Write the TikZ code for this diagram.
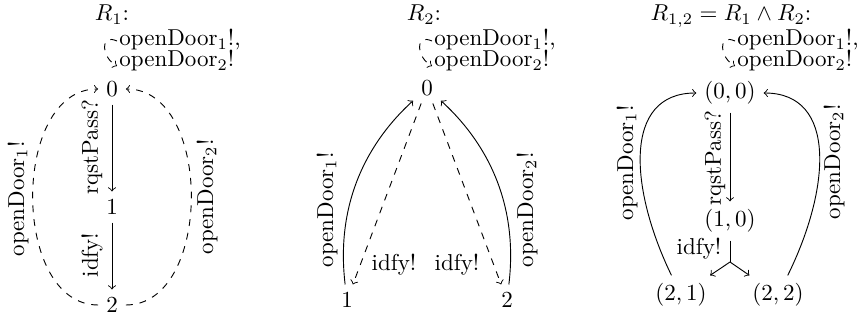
\documentclass[tikz,border=0pt]{standalone}
\begin{document}
\begin{tikzpicture}[x=0.43478pt, y=0.43478pt,
  st/.style={inner sep=3.333pt},
  ttl/.style={inner sep=0pt, anchor=base},
  lbl/.style={inner sep=0pt},
  slbl/.style={inner sep=0pt, anchor=base west},
  vlbl/.style={inner sep=0pt, rotate=90},
  tr/.style={->},
  dtr/.style={->, dashed}]
\useasboundingbox (0,0) rectangle (858,323);

% ---------- R1 ----------
\node[ttl] (t1) at (112,302) {$R_1$:};
\node[st] (a0) at (112,234) {$0$};
\node[st] (a1) at (112,116) {$1$};
\node[st] (a2) at (112,18) {$2$};
\coordinate (a0la) at (117,282);
\coordinate (a0lb) at (117,257);
\draw[dtr] (a0la) .. controls (99,290) and (102,265) .. (a0lb);
\node[slbl] (a0s1) at (119,277) {openDoor$_1$!,};
\node[slbl] (a0s2) at (119,256) {openDoor$_2$!};
\draw[tr] (a0) -- (a1);
\node[vlbl] (a01l) at (92,176) {rqstPass?};
\draw[tr] (a1) -- (a2);
\node[vlbl] (a12l) at (92,68) {idfy!};
\draw[dtr] (a2) .. controls (11,18) and (11,234) .. (a0);
\node[vlbl] (a20l) at (18,124) {openDoor$_1$!};
\draw[dtr] (a2) .. controls (213,18) and (213,234) .. (a0);
\node[vlbl] (a20r) at (207,126) {openDoor$_2$!};

% ---------- R2 ----------
\node[ttl] (t2) at (424,302) {$R_2$:};
\node[st] (b0) at (427,235) {$0$};
\node[st] (b1) at (347,23) {$1$};
\node[st] (b2) at (507,23) {$2$};
\coordinate (b0la) at (432,282);
\coordinate (b0lb) at (432,257);
\draw[dtr] (b0la) .. controls (414,290) and (417,265) .. (b0lb);
\node[slbl] (b0s1) at (434,277) {openDoor$_1$!,};
\node[slbl] (b0s2) at (434,256) {openDoor$_2$!};
\draw[tr] (b1) .. controls (335,123) and (370,183) .. (b0);
\node[vlbl] (b10l) at (327,113) {openDoor$_1$!};
\draw[tr] (b2) .. controls (519,123) and (484,183) .. (b0);
\node[vlbl] (b20l) at (527,113) {openDoor$_2$!};
\draw[dtr] (b0) -- (b1);
\node[lbl] (b01l) at (394,58) {idfy!};
\draw[dtr] (b0) -- (b2);
\node[lbl] (b02l) at (457,58) {idfy!};

% ---------- R12 ----------
\node[ttl] (t3) at (731,302) {$R_{1,2} = R_1 \wedge R_2$:};
\node[st] (c00) at (730,230) {$(0,0)$};
\node[st] (c10) at (730,102) {$(1,0)$};
\node[st] (c21) at (681,28) {$(2,1)$};
\node[st] (c22) at (778,28) {$(2,2)$};
\coordinate (c0la) at (735,282);
\coordinate (c0lb) at (735,257);
\draw[dtr] (c0la) .. controls (717,290) and (720,265) .. (c0lb);
\node[slbl] (c0s1) at (737,277) {openDoor$_1$!,};
\node[slbl] (c0s2) at (737,256) {openDoor$_2$!};
\draw[tr] (c00) -- (c10);
\node[vlbl] (c01l) at (715,165) {rqstPass?};
\coordinate (cj) at (730,61);
\draw (c10) -- (cj);
\draw[tr] (cj) -- (c21);
\draw[tr] (cj) -- (c22);
\node[lbl] (cjl) at (699,74) {idfy!};
\draw[tr] (c21) .. controls (630,133) and (622,230) .. (c00);
\node[vlbl] (c21l) at (627,160) {openDoor$_1$!};
\draw[tr] (c22) .. controls (830,133) and (838,230) .. (c00);
\node[vlbl] (c22l) at (834,161) {openDoor$_2$!};
\end{tikzpicture}
\end{document}
